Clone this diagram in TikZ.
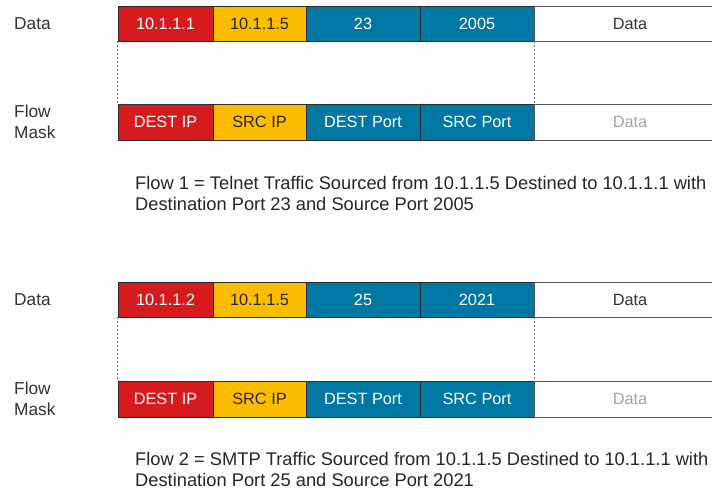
\documentclass[tikz,border=0pt]{standalone}
\usepackage{fontspec}
\setmainfont{Liberation Sans}
\definecolor{hdrred}{RGB}{214,27,31}
\definecolor{hdryel}{RGB}{252,188,0}
\definecolor{hdrblue}{RGB}{0,120,163}
\definecolor{edge}{RGB}{45,45,45}
\definecolor{dimtext}{RGB}{165,165,165}
\begin{document}
\begin{tikzpicture}[x=1pt,y=-1pt,
  cell/.style={draw=edge, line width=0.8pt, inner sep=0pt, font=\fontsize{16.3}{18}\selectfont},
  redcell/.style={cell, fill=hdrred, text=white, minimum width=95pt},
  yelcell/.style={cell, fill=hdryel, text=black!85, minimum width=93pt},
  bluecell/.style={cell, fill=hdrblue, text=white, minimum width=114pt},
  tailcell/.style={cell, fill=white, draw=edge!80, text=black!80, minimum width=192pt},
  datarow/.style={minimum height=35pt},
  maskrow/.style={minimum height=36pt},
  rowlabel/.style={anchor=west, align=left, inner sep=0pt, font=\fontsize{17.3}{21.5}\selectfont, text=black!80},
  caption/.style={anchor=north west, align=left, inner sep=0pt, font=\fontsize{18.3}{21}\selectfont, text=black!85},
  guide/.style={draw=black!55, dashed, line width=0.6pt, dash pattern=on 2pt off 2pt}
]
\useasboundingbox[fill=white] (0,0) rectangle (712,490);

% ---- Flow 1 ----
\node[rowlabel] (l1d) at (14,24) {Data};
\node[redcell, datarow]  (d1a) at (165.5,23.5) {10.1.1.1};
\node[yelcell, datarow]  (d1b) at (259.5,23.5) {10.1.1.5};
\node[bluecell, datarow] (d1c) at (363,23.5) {23};
\node[bluecell, datarow] (d1d) at (477,23.5) {2005};
\node[tailcell, datarow] (d1e) at (630,23.5) {Data};

\node[rowlabel] (l1m) at (14,122) {Flow\\Mask};
\node[redcell, maskrow]  (m1a) at (165.5,122) {DEST IP};
\node[yelcell, maskrow]  (m1b) at (259.5,122) {SRC IP};
\node[bluecell, maskrow] (m1c) at (363,122) {DEST Port};
\node[bluecell, maskrow] (m1d) at (477,122) {SRC Port};
\node[tailcell, maskrow, text=dimtext] (m1e) at (630,122) {Data};

\draw[guide] (d1a.south west) -- (m1a.north west);
\draw[guide] (d1d.south east) -- (m1d.north east);

\node[caption] (c1) at (135,176) {Flow 1 = Telnet Traffic Sourced from 10.1.1.5 Destined to 10.1.1.1 with\\Destination Port 23 and Source Port 2005};

% ---- Flow 2 ----
\node[rowlabel] (l2d) at (14,300) {Data};
\node[redcell, datarow]  (d2a) at (165.5,299.5) {10.1.1.2};
\node[yelcell, datarow]  (d2b) at (259.5,299.5) {10.1.1.5};
\node[bluecell, datarow] (d2c) at (363,299.5) {25};
\node[bluecell, datarow] (d2d) at (477,299.5) {2021};
\node[tailcell, datarow] (d2e) at (630,299.5) {Data};

\node[rowlabel] (l2m) at (14,399) {Flow\\Mask};
\node[redcell, maskrow]  (m2a) at (165.5,399) {DEST IP};
\node[yelcell, maskrow]  (m2b) at (259.5,399) {SRC IP};
\node[bluecell, maskrow] (m2c) at (363,399) {DEST Port};
\node[bluecell, maskrow] (m2d) at (477,399) {SRC Port};
\node[tailcell, maskrow, text=dimtext] (m2e) at (630,399) {Data};

\draw[guide] (d2a.south west) -- (m2a.north west);
\draw[guide] (d2d.south east) -- (m2d.north east);

\node[caption] (c2) at (135,452) {Flow 2 = SMTP Traffic Sourced from 10.1.1.5 Destined to 10.1.1.1 with\\Destination Port 25 and Source Port 2021};
\end{tikzpicture}
\end{document}
